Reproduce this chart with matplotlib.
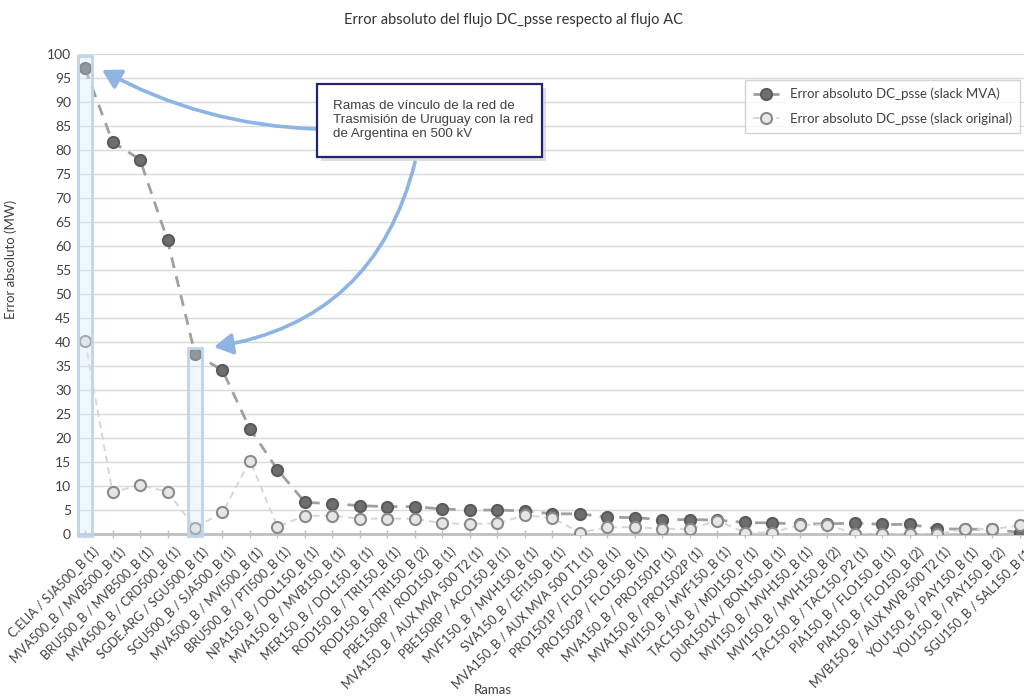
import matplotlib
matplotlib.use("Agg")
import matplotlib.pyplot as plt
from matplotlib.patches import Rectangle, FancyArrowPatch
from matplotlib.transforms import ScaledTranslation

# Branch names (category axis)
ramas = [
    "C.ELIA / SJA500_B (1)", "MVA500_B / MVB500_B (1)", "BRU500_B / MVB500_B (1)",
    "MVA500_B / CRD500_B (1)", "SGDE.ARG / SGU500_B (1)", "SGU500_B / SJA500_B (1)",
    "MVA500_B / MVI500_B (1)", "BRU500_B / PTI500_B (1)", "NPA150_B / DOL150_B (1)",
    "MVA150_B / MVB150_B (1)", "MER150_B / DOL150_B (1)", "ROD150_B / TRI150_B (1)",
    "ROD150_B / TRI150_B (2)", "PBE150RP / ROD150_B (1)", "MVA150_B / AUX MVA 500 T2 (1)",
    "PBE150RP / ACO150_B (1)", "MVF150_B / MVH150_B (1)", "SVA150_B / EFI150_B (1)",
    "MVA150_B / AUX MVA 500 T1 (1)", "PRO1501P / FLO150_B (1)", "PRO1502P / FLO150_B (1)",
    "MVA150_B / PRO1501P (1)", "MVA150_B / PRO1502P (1)", "MVI150_B / MVF150_B (1)",
    "TAC150_B / MDI150_P (1)", "DUR1501X / BON150_B (1)", "MVI150_B / MVH150_B (1)",
    "MVI150_B / MVH150_B (2)", "TAC150_B / TAC150_P2 (1)", "PIA150_B / FLO150_B (1)",
    "PIA150_B / FLO150_B (2)", "MVB150_B / AUX MVB 500 T2 (1)", "YOU150_B / PAY150_B (1)",
    "YOU150_B / PAY150_B (2)", "SGU150_B / SAL150_B (1)",
]

# Absolute error (MW), DC_psse with slack at MVA
error_slack_mva = [
    97.0, 81.7, 78.0, 61.2, 37.5, 34.1, 21.9, 13.4, 6.6, 6.3,
    5.9, 5.7, 5.7, 5.2, 5.0, 5.0, 4.8, 4.2, 4.2, 3.5,
    3.4, 3.0, 3.0, 2.9, 2.4, 2.3, 2.1, 2.1, 2.3, 2.0,
    2.0, 1.1, 1.0, 1.0, 0.3,
]

# Absolute error (MW), DC_psse with the original slack
error_slack_original = [
    40.2, 8.7, 10.2, 8.8, 1.3, 4.5, 15.3, 1.5, 3.8, 3.8,
    3.2, 3.2, 3.2, 2.2, 2.1, 2.2, 3.9, 3.3, 0.3, 1.4,
    1.4, 1.1, 1.0, 2.8, 0.3, 0.3, 1.9, 1.9, 0.1, 0.0,
    0.0, 0.0, 1.0, 1.0, 1.8,
]

# Interconnection branches with Argentina (500 kV) to highlight
destacadas = [0, 4]
margen_sup = [2.6, 1.3]

W, H = 1024, 700
plt.rcParams["font.family"] = ["Lato", "DejaVu Sans"]

fig = plt.figure(figsize=(W / 100, H / 100), dpi=100)
fig.patch.set_facecolor("white")


def px(x, y):
    """Pixel position (origin top-left) to figure fraction."""
    return (x / W, 1 - y / H)


# Axes area
x0 = -0.255
x1 = 34.73
ax = fig.add_axes([78 / W, 166 / H, 962 / W, 480 / H])
ax.set_xlim(x0, x1)
ax.set_ylim(0, 100)

xs = list(range(len(ramas)))

ax.plot(xs, error_slack_mva, linestyle=(0, (4, 3)), color="#a0a0a0", lw=2.0,
        marker="o", markersize=8, markerfacecolor="#6e6e6e",
        markeredgecolor="#5a5a5a", markeredgewidth=1.5, zorder=3,
        label="Error absoluto DC_psse (slack MVA)")
ax.plot(xs, error_slack_original, linestyle=(0, (3.5, 2.5)), color="#d6d6d6", lw=1.4,
        marker="o", markersize=8, markerfacecolor="#e6e6e6",
        markeredgecolor="#8a8a8a", markeredgewidth=1.5, zorder=4,
        label="Error absoluto DC_psse (slack original)")

# Highlight rectangles around the interconnection branches
for i, m in zip(destacadas, margen_sup):
    top = max(error_slack_mva[i], error_slack_original[i]) + m
    rect = Rectangle((i - 0.24, -0.5), 0.48, top + 0.5,
                     facecolor=(0.84, 0.91, 0.98, 0.35), edgecolor="#bcd5ee",
                     lw=2.0, zorder=5, clip_on=False)
    ax.add_patch(rect)

# Grid and axes styling
ax.set_yticks(range(0, 101, 5))
ax.yaxis.grid(True, color="#d9d9d9", lw=1.0)
ax.set_axisbelow(True)
for s in ["left", "right", "top"]:
    ax.spines[s].set_visible(False)
ax.spines["bottom"].set_color("#bfbfbf")
ax.spines["bottom"].set_linewidth(2.0)
ax.tick_params(axis="y", length=0, pad=5, labelsize=10, labelcolor="#404040")
ax.tick_params(axis="x", direction="inout", length=6, width=1, color="#bfbfbf",
               pad=5, labelsize=9, labelcolor="#404040")
ax.set_xticks(xs)
ax.set_xticklabels(ramas, rotation=45, ha="right", va="top", rotation_mode="anchor")
shift = ScaledTranslation(5 / 72, 0, fig.dpi_scale_trans)
for lbl in ax.get_xticklabels():
    lbl.set_transform(lbl.get_transform() + shift)

ax.set_ylabel("Error absoluto (MW)", fontsize=9.5, color="#404040")
ax.yaxis.set_label_coords(-0.063, 0.573)

fig.text(*px(493, 690), "Ramas", ha="center", va="center", fontsize=9.5, color="#404040")
fig.text(*px(513, 20), "Error absoluto del flujo DC_psse respecto al flujo AC",
         ha="center", va="center", fontsize=10.5, color="#333333")

# Legend
leg = ax.legend(loc="upper left", bbox_to_anchor=px(745, 80), bbox_transform=fig.transFigure,
                borderaxespad=0, fontsize=9.5, frameon=True, fancybox=False,
                edgecolor="#c8c8c8", handlelength=2.0, labelcolor="#404040",
                borderpad=0.6, labelspacing=0.9)
leg.get_frame().set_linewidth(1.0)

# Callout box with shadow
bx, by, bw, bh = 317, 84, 225, 73
shadow = Rectangle(px(bx + 4, by + bh + 4), bw / W, bh / H, transform=fig.transFigure,
                   facecolor="#c8c8c8", edgecolor="none", alpha=0.6, zorder=9)
fig.add_artist(shadow)
box = Rectangle(px(bx, by + bh), bw / W, bh / H, transform=fig.transFigure,
                facecolor="white", edgecolor="#23236e", lw=1.6, zorder=10)
fig.add_artist(box)
fig.text(*px(333, 100), "Ramas de vínculo de la red de\nTrasmisión de Uruguay con la red\nde Argentina en 500 kV",
         ha="left", va="top", fontsize=9.6, family=["Liberation Sans", "DejaVu Sans"],
         color="#404040", linespacing=1.2, zorder=11)

# Curved arrows from the callout to the highlighted points
arrow_kw = dict(arrowstyle="-|>,head_length=0.7,head_width=0.4", mutation_scale=16,
                color="#8eb4e3", lw=2.6, transform=fig.transFigure, zorder=8,
                shrinkA=0, shrinkB=0)
a1 = FancyArrowPatch(px(317, 129), px(102, 70), connectionstyle="arc3,rad=-0.12", **arrow_kw)
a2 = FancyArrowPatch(px(415, 162), px(214, 347), connectionstyle="arc3,rad=-0.33", **arrow_kw)
fig.add_artist(a1)
fig.add_artist(a2)

fig.savefig("out.png", dpi=100)
